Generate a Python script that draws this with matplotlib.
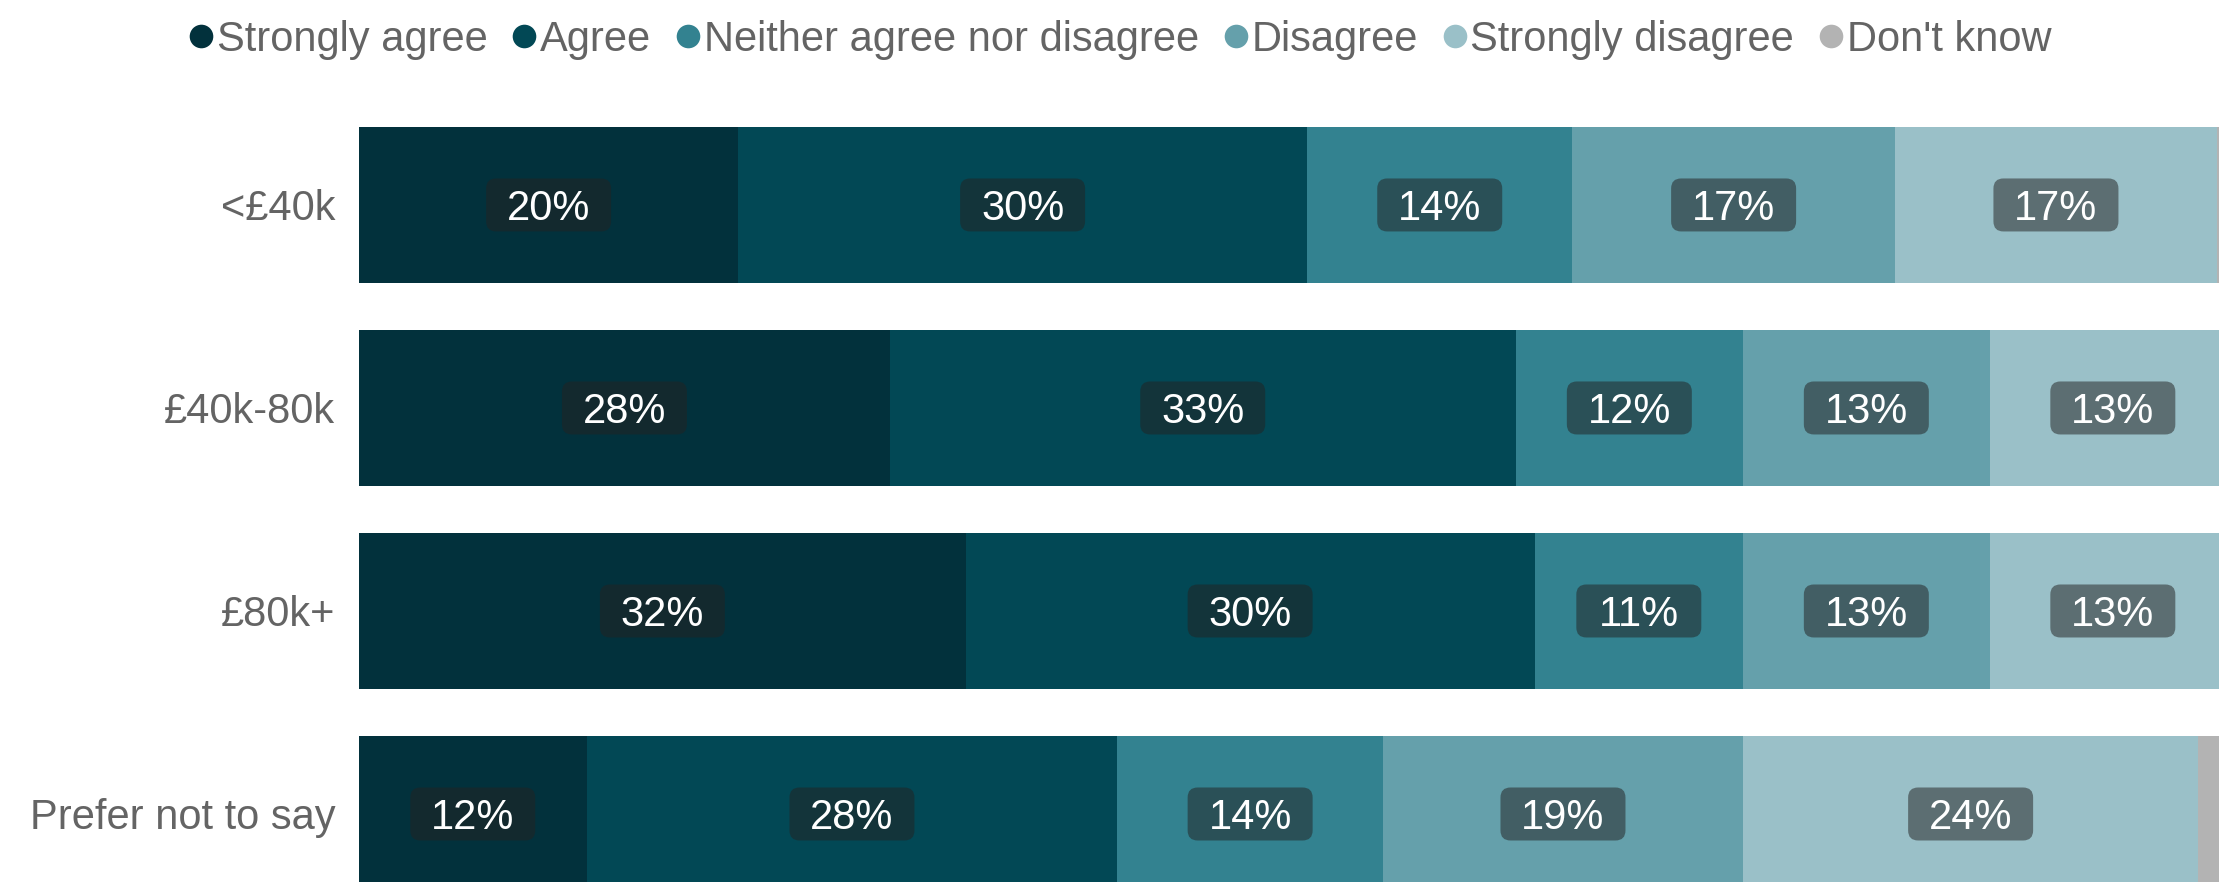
import numpy as np
import matplotlib.pyplot as plt
import matplotlib.transforms as mtransforms
from matplotlib.patches import FancyBboxPatch
from matplotlib.lines import Line2D

plt.rcParams['font.family'] = ['Liberation Sans', 'DejaVu Sans']

groups = ['<£40k', '£40k-80k', '£80k+', 'Prefer not to say']
responses = ['Strongly agree', 'Agree', 'Neither agree nor disagree',
             'Disagree', 'Strongly disagree', "Don't know"]
strongly_agree = [20, 28, 32, 12]
agree = [30, 33, 30, 28]
neither = [14, 12, 11, 14]
disagree = [17, 13, 13, 19]
strongly_disagree = [17, 13, 13, 24]
dont_know = [2, 1, 1, 3]

colors = ['#02313c', '#024855', '#338290', '#65a0ab', '#9ac0c8', '#b3b3b3']
grey_text = '#646464'

series = [strongly_agree, agree, neither, disagree, strongly_disagree, dont_know]

fig = plt.figure(figsize=(22.19, 8.82), dpi=100)
ax = fig.add_axes([359 / 2219, 0, 1 - 359 / 2219, 782 / 882])

y = np.arange(len(groups))
left = np.zeros(len(groups))
for vals, col, name in zip(series, colors, responses):
    vals = np.array(vals, dtype=float)
    ax.barh(y, vals, left=left, height=0.77, color=col, linewidth=0)
    if name != "Don't know":
        for yi, (l, v) in enumerate(zip(left, vals)):
            xc = l + v / 2
            # rounded dark label box, sized in inches around the segment centre
            trans = fig.dpi_scale_trans + mtransforms.ScaledTranslation(xc, yi, ax.transData)
            box = FancyBboxPatch((-0.625, -0.265), 1.25, 0.53,
                                 boxstyle='round,pad=0,rounding_size=0.1',
                                 transform=trans, facecolor='#232323', alpha=0.52,
                                 linewidth=0, clip_on=False)
            ax.add_patch(box)
            ax.annotate(f'{int(v)}%', (xc, yi), xytext=(0, -11), textcoords='offset points',
                        ha='center', va='baseline', color='white', fontsize=30)
    left += vals

ax.set_xlim(0, 98.1)
ax.set_ylim(3.335, -0.517)
ax.set_yticks(y)
ax.set_yticklabels(groups, fontsize=30, color=grey_text)
ax.tick_params(axis='y', length=0, pad=17)
ax.set_xticks([])
for s in ax.spines.values():
    s.set_visible(False)

handles = [Line2D([], [], linestyle='', marker='o', markersize=17, color=c,
                  markeredgewidth=0) for c in colors]
leg = fig.legend(handles, responses, loc='center', bbox_to_anchor=(0.5047, 1 - 40 / 882),
                 ncol=6, frameon=False, fontsize=30, handlelength=0.6,
                 handletextpad=0.08, columnspacing=0.58, borderpad=0, borderaxespad=0)
for t in leg.get_texts():
    t.set_color(grey_text)

fig.savefig('out.png', dpi=100)
